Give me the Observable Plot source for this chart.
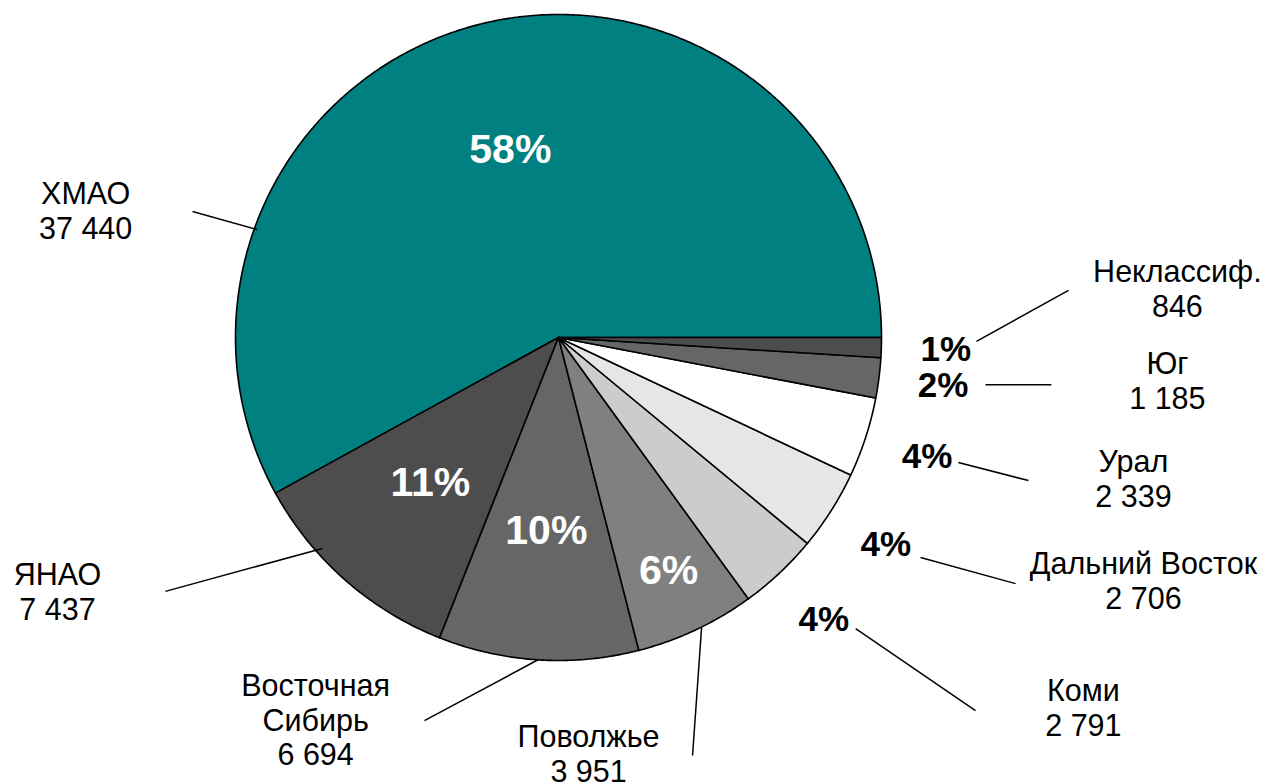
<!DOCTYPE html>
<html>
<head>
<meta charset="utf-8">
<script src="https://cdn.jsdelivr.net/npm/d3@7"></script>
<script src="https://cdn.jsdelivr.net/npm/@observablehq/plot@0.6"></script>
<style>
  html, body { margin: 0; padding: 0; background: #fff; }
  #chart svg { display: block; overflow: visible; }
</style>
</head>
<body>
<div id="chart"></div>
<script>
// ---- data ----
const categories = ["ХМАО", "ЯНАО", "Восточная Сибирь", "Поволжье", "Коми", "Дальний Восток", "Урал", "Юг", "Неклассиф."];
const labelText = ["ХМАО", "ЯНАО", "Восточная\nСибирь", "Поволжье", "Коми", "Дальний Восток", "Урал", "Юг", "Неклассиф."];
const values = [37440, 7437, 6694, 3951, 2791, 2706, 2339, 1185, 846];
const shares = [58, 11, 10, 6, 4, 4, 4, 2, 1];
const colors = ["#008080", "#4d4d4d", "#666666", "#808080", "#cccccc", "#e6e6e6", "#ffffff", "#666666", "#4d4d4d"];

// ---- annotation layout (in pie-radius units, relative to centre) ----
const labelPos = [[-1.464, 0.393], [-1.551, -0.786], [-0.752, -1.183], [0.093, -1.288], [1.625, -1.146], [1.811, -0.752], [1.780, -0.437], [1.885, -0.133], [1.916, 0.152]];
const leaders = [
  [-1.133, 0.390, -0.932, 0.334],
  [-1.217, -0.786, -0.731, -0.653],
  [-0.415, -1.186, -0.062, -0.997],
  [0.415, -1.294, 0.443, -0.898],
  [0.920, -0.901, 1.291, -1.155],
  [1.121, -0.681, 1.415, -0.762],
  [1.238, -0.387, 1.455, -0.443],
  [1.322, -0.146, 1.526, -0.146],
  [1.294, -0.012, 1.579, 0.146]
];

const fmt = d3.formatLocale({decimal: ",", thousands: " ", grouping: [3], currency: ["", ""]}).format(",d");
const total = d3.sum(shares);

// slices (counter-clockwise from 3 o'clock)
const slicePts = [];
const pctLabels = [];
let acc = 0;
categories.forEach((name, i) => {
  const a0 = acc / total * 2 * Math.PI;
  acc += shares[i];
  const a1 = acc / total * 2 * Math.PI;
  const n = Math.max(2, Math.ceil((a1 - a0) / (Math.PI / 360)));
  slicePts.push({name, x: 0, y: 0});
  for (let k = 0; k <= n; k++) {
    const t = a0 + (a1 - a0) * k / n;
    slicePts.push({name, x: Math.cos(t), y: Math.sin(t)});
  }
  const mid = (a0 + a1) / 2;
  const r = shares[i] >= 10 ? 0.6 : shares[i] >= 5 ? 0.8 : 1.2;
  pctLabels.push({text: shares[i] + "%", x: r * Math.cos(mid), y: r * Math.sin(mid), inside: r < 1});
});

const catLabels = categories.map((name, i) => ({text: labelText[i] + "\n" + fmt(values[i]), x: labelPos[i][0], y: labelPos[i][1]}));
const leaderData = leaders.map(([x1, y1, x2, y2]) => ({x1, y1, x2, y2}));

const font = "'Liberation Sans', Arial, sans-serif";

const chart = Plot.plot({
  width: 1263,
  height: 784,
  marginLeft: 235,
  marginRight: 382,
  marginTop: 14,
  marginBottom: 124,
  x: {domain: [-1, 1], axis: null},
  y: {domain: [-1, 1], axis: null},
  color: {type: "ordinal", domain: categories, range: colors},
  style: {fontFamily: font, background: "#fff"},
  marks: [
    Plot.line(slicePts, {x: "x", y: "y", z: "name", fill: "name", stroke: "#000", strokeWidth: 1.6, curve: "linear-closed", strokeLinejoin: "round"}),
    Plot.link(leaderData, {x1: "x1", y1: "y1", x2: "x2", y2: "y2", stroke: "#000", strokeWidth: 1.5}),
    Plot.text(pctLabels.filter(d => d.inside), {x: "x", y: "y", text: "text", fill: "#fff", fontSize: 41, fontWeight: "bold", fontFamily: font, textAnchor: "middle"}),
    Plot.text(pctLabels.filter(d => !d.inside), {x: "x", y: "y", text: "text", fill: "#000", fontSize: 35, fontWeight: "bold", fontFamily: font, textAnchor: "middle"}),
    Plot.text(catLabels, {x: "x", y: "y", text: "text", fill: "#000", fontSize: 30.5, fontFamily: font, textAnchor: "middle", lineAnchor: "middle", lineHeight: 1.14})
  ]
});
document.getElementById("chart").appendChild(chart);
</script>
</body>
</html>
